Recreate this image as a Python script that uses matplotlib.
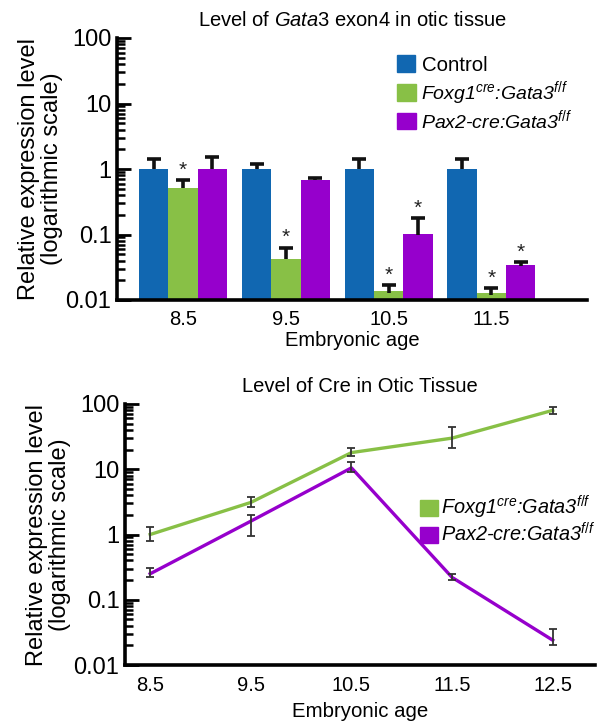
import matplotlib
matplotlib.use("Agg")
import matplotlib.pyplot as plt
from matplotlib.patches import Patch
from matplotlib.ticker import LogLocator, NullFormatter
import numpy as np

plt.rcParams['font.family'] = ['Liberation Sans', 'DejaVu Sans']
plt.rcParams['mathtext.fontset'] = 'custom'
plt.rcParams['mathtext.rm'] = 'Liberation Sans'
plt.rcParams['mathtext.it'] = 'Liberation Sans:italic'
plt.rcParams['mathtext.bf'] = 'Liberation Sans:bold'

# ---------------- data: top bar chart ----------------
ages_bar = ['8.5', '9.5', '10.5', '11.5']
control = [1.0, 1.0, 1.0, 1.0]
control_err_top = [1.40, 1.20, 1.40, 1.40]
foxg1 = [0.51, 0.042, 0.0129, 0.0118]
foxg1_err_top = [0.67, 0.063, 0.0168, 0.0152]
pax2 = [1.0, 0.67, 0.10, 0.0336]
pax2_err_top = [1.52, 0.74, 0.177, 0.038]
foxg1_sig = [True, True, True, True]
pax2_sig = [False, False, True, True]

# ---------------- data: bottom line chart ----------------
ages_line = [8.5, 9.5, 10.5, 11.5, 12.5]
cre_foxg1 = [1.0, 3.1, 18.0, 30.0, 80.0]
cre_foxg1_lo = [0.80, 2.6, 16.0, 21.0, 70.0]
cre_foxg1_hi = [1.30, 3.8, 21.0, 45.0, 90.0]
cre_pax2 = [0.25, 1.6, 10.5, 0.22, 0.024]
cre_pax2_lo = [0.22, 0.95, 9.2, 0.20, 0.020]
cre_pax2_hi = [0.31, 2.0, 13.0, 0.245, 0.035]

label_ctrl = 'Control'
label_foxg1 = r'Foxg1$^{cre}$:Gata3$^{f/f}$'
label_pax2 = r'Pax2-cre:Gata3$^{f/f}$'

c_blue = '#1167b1'
c_green = '#88c046'
c_purple = '#9600cc'

fig = plt.figure(figsize=(5.98, 7.24), dpi=100)

def style_log_axis(ax):
    ax.set_yscale('log')
    ax.set_ylim(0.01, 100)
    ax.set_yticks([0.01, 0.1, 1, 10, 100])
    ax.set_yticklabels(['0.01', '0.1', '1', '10', '100'])
    ax.yaxis.set_minor_locator(LogLocator(base=10, subs=np.arange(2, 10), numticks=20))
    ax.yaxis.set_minor_formatter(NullFormatter())
    ax.tick_params(axis='y', which='major', direction='in', length=10, width=2.0,
                   labelsize=17, pad=4)
    ax.tick_params(axis='y', which='minor', direction='in', length=6, width=1.8)
    ax.tick_params(axis='x', which='both', length=0)
    for s in ['top', 'right']:
        ax.spines[s].set_visible(False)
    ax.spines['left'].set_linewidth(2.6)
    ax.spines['bottom'].set_linewidth(2.6)

# ---------------- top chart ----------------
ax1 = fig.add_axes([117/598, 1-300/724, 470/598, 262/724])
style_log_axis(ax1)
x = np.arange(len(ages_bar))
w = 0.285
series = [(control, control_err_top, c_blue, -w),
          (foxg1, foxg1_err_top, c_green, 0.0),
          (pax2, pax2_err_top, c_purple, w)]
for vals, tops, col, off in series:
    ax1.bar(x + off, vals, width=w, color=col, bottom=0.001, zorder=2)
    up = np.array(tops) - np.array(vals)
    eb = ax1.errorbar(x + off, vals, yerr=[np.zeros_like(up), up], fmt='none',
                      ecolor='#111111', elinewidth=2.6, capsize=5, capthick=2.6, zorder=3)
    caps = eb[1]
    if len(caps) >= 2:
        caps[0].set_visible(False)

for i in range(len(ages_bar)):
    if foxg1_sig[i]:
        ax1.annotate('*', (x[i], foxg1_err_top[i]), xytext=(0, 0.5), textcoords='offset points',
                     ha='center', va='bottom', fontsize=15, color='#222222')
    if pax2_sig[i]:
        ax1.annotate('*', (x[i] + w, pax2_err_top[i]), xytext=(0, 0.5), textcoords='offset points',
                     ha='center', va='bottom', fontsize=15, color='#222222')

ax1.set_xlim(-0.643, 3.93)
ax1.set_xticks(x)
ax1.set_xticklabels(ages_bar)
ax1.tick_params(axis='x', labelsize=14.5, pad=7)
ax1.set_xlabel('Embryonic age', fontsize=14.5, labelpad=2)
ax1.set_ylabel('Relative expression level\n(logarithmic scale)', fontsize=17,
               labelpad=2, linespacing=1.05)
ax1.set_title(r'Level of $\mathit{Gata3}$ exon4 in otic tissue', fontsize=14.5, pad=9)

leg_a = ax1.legend(handles=[Patch(color=c_blue, label=label_ctrl)],
                   loc='center left', bbox_to_anchor=(0.596, 0.897), frameon=False,
                   fontsize=14.7, handlelength=0.9, handleheight=0.85, handletextpad=0.3,
                   borderpad=0, borderaxespad=0)
ax1.add_artist(leg_a)
ax1.legend(handles=[Patch(color=c_green, label=label_foxg1),
                    Patch(color=c_purple, label=label_pax2)],
           loc='center left', bbox_to_anchor=(0.596, 0.742), frameon=False,
           prop={'size': 14.0, 'style': 'italic'}, handlelength=0.95, handleheight=0.9,
           handletextpad=0.3, labelspacing=0.05, borderpad=0, borderaxespad=0)

# ---------------- bottom chart ----------------
ax2 = fig.add_axes([125/598, 1-665/724, 470/598, 261/724])
style_log_axis(ax2)
ax2.plot(ages_line, cre_foxg1, color=c_green, lw=2.4, zorder=2)
ax2.plot(ages_line, cre_pax2, color=c_purple, lw=2.4, zorder=2)
for vals, lo, hi in [(cre_foxg1, cre_foxg1_lo, cre_foxg1_hi),
                     (cre_pax2, cre_pax2_lo, cre_pax2_hi)]:
    v = np.array(vals)
    ax2.errorbar(ages_line, vals, yerr=[v - np.array(lo), np.array(hi) - v], fmt='none',
                 ecolor='#333333', elinewidth=1.3, capsize=3, capthick=1.3, zorder=3)
ax2.set_xlim(8.25, 12.92)
ax2.set_xticks(ages_line)
ax2.set_xticklabels(['8.5', '9.5', '10.5', '11.5', '12.5'])
ax2.tick_params(axis='x', labelsize=14.5, pad=8)
ax2.set_xlabel('Embryonic age', fontsize=14.7, labelpad=5)
ax2.set_ylabel('Relative expression level\n(logarithmic scale)', fontsize=17,
               labelpad=2, linespacing=1.05)
ax2.set_title('Level of Cre in Otic Tissue', fontsize=14.5, pad=9)

handles = [Patch(color=c_green, label=label_foxg1),
           Patch(color=c_purple, label=label_pax2)]
ax2.legend(handles=handles, loc='center left', bbox_to_anchor=(0.628, 0.556), frameon=False,
           prop={'size': 14.3, 'style': 'italic'}, handlelength=0.9, handleheight=0.85,
           handletextpad=0.15, labelspacing=0.05, borderpad=0, borderaxespad=0)

fig.savefig('out.png', dpi=100)
